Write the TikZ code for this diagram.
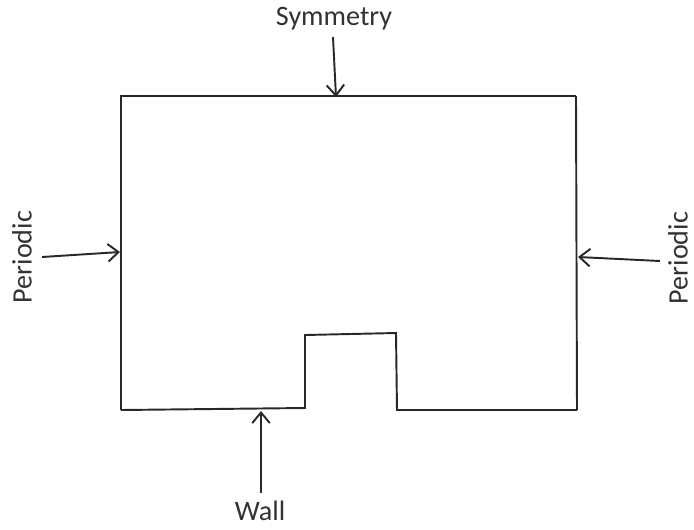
\documentclass[tikz,border=0pt]{standalone}
\usepackage{fontspec}
\setmainfont{Carlito}
\usetikzlibrary{arrows.meta}
\definecolor{lineGray}{RGB}{40, 40, 40}
\definecolor{textGray}{RGB}{50, 50, 50}

\begin{document}
\begin{tikzpicture}[x=0.02cm, y=-0.02cm,
    wall/.style={lineGray, line width=1.1pt, line join=miter},
    bcarrow/.style={lineGray, line width=1.1pt, -{Straight Barb[length=6pt, width=10pt, line width=1.1pt]}},
    bclabel/.style={textGray, font=\fontsize{16}{19}\selectfont, inner sep=1pt}]
        \useasboundingbox (0,0) rectangle (694,529);
        % domain outline
        \draw[wall] (120,96) -- (576,96);
        \draw[wall] (121,96) -- (121,410);
        \draw[wall] (576,96) -- (577,410);
        \draw[wall] (121,410) -- (305,408) -- (305,335) -- (396,333) -- (397,410) -- (577,410);
        % boundary labels
        \node[bclabel] (sym) at (334,19) {Symmetry};
        \node[bclabel, rotate=90] (perL) at (22,257) {Periodic};
        \node[bclabel, rotate=90] (perR) at (678,258) {Periodic};
        \node[bclabel] (wall) at (260,511) {Wall};
        \coordinate (symEnd) at (336,97);
        \coordinate (perLEnd) at (120,252);
        \coordinate (perREnd) at (578,257);
        \coordinate (wallEnd) at (261,411);
        % arrows
        \draw[bcarrow] (333,37) -- (symEnd);
        \draw[bcarrow] (42,257) -- (perLEnd);
        \draw[bcarrow] (660,261) -- (perREnd);
        \draw[bcarrow] (261,493) -- (wallEnd);
\end{tikzpicture}
\end{document}
